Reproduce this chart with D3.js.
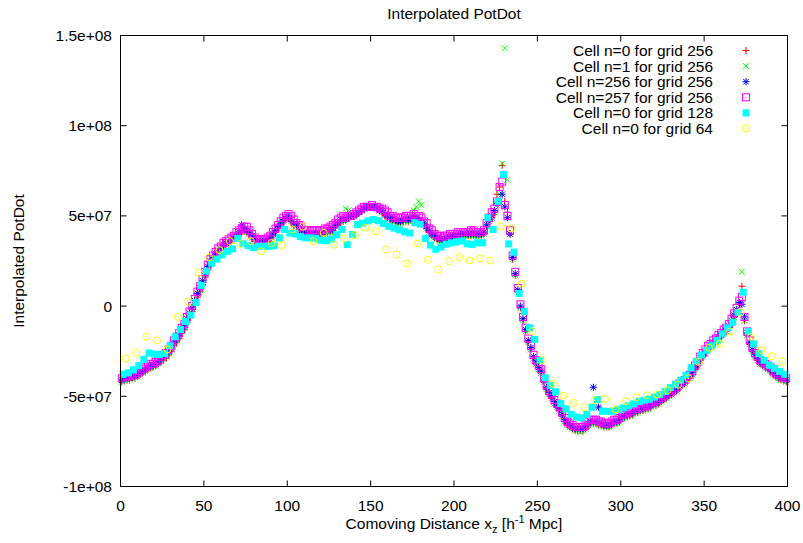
<!DOCTYPE html>
<html>
<head>
<meta charset="utf-8">
<script src="https://cdn.jsdelivr.net/npm/d3@7"></script>
<style>
  body { margin: 0; background: #fff; }
  svg { display: block; }
  text { font-family: "Liberation Sans", Arial, Helvetica, sans-serif; fill: #000; }
</style>
</head>
<body>
<svg id="chart" width="803" height="543"></svg>
<script>
// Comoving box length in h^-1 Mpc; samples sit at cell centres of each grid.
const boxLength = 400;

const xTickValues = [0, 50, 100, 150, 200, 250, 300, 350, 400];
const yTickValues = [-1e8, -5e7, 0, 5e7, 1e8, 1.5e8];
const yTickLabels = ["-1e+08", "-5e+07", "0", "5e+07", "1e+08", "1.5e+08"];

// Interpolated PotDot values, in units of 1e6.
const cell0Grid256 = [
  -42,-41,-41,-41,-40,-40,-39,-38,-37,-36,
  -35,-34,-34,-33,-32,-31,-30,-29,-27,-25,
  -22,-20,-18,-15,-13,-9,-6,-3,1,5,
  8,12,16,20,23,25,27,29,31,33,
  34,35,36,37,38,40,41,42,41,40,
  38,36,35,35,35,35,36,37,39,41,
  43,45,47,48,49,47,45,44,43,41,
  40,39,39,39,39,39,39,40,40,41,
  41,42,44,45,47,47,48,49,50,50,
  51,52,53,54,55,55,55,55,54,53,
  52,50,49,48,47,47,46,46,47,47,
  47,48,48,48,47,46,45,43,41,39,
  38,37,36,36,36,37,37,38,38,38,
  39,39,39,39,39,39,39,39,39,40,
  44,47,49,52,62,66,78,58,52,40,
  26,17,8,-1,-8,-14,-20,-24,-29,-32,
  -35,-37,-42,-46,-49,-51,-54,-56,-58,-61,
  -64,-66,-67,-68,-69,-69,-69,-69,-68,-66,
  -65,-65,-65,-66,-66,-67,-67,-67,-66,-65,
  -65,-64,-62,-62,-61,-61,-60,-59,-59,-58,
  -58,-57,-57,-56,-55,-55,-54,-53,-52,-51,
  -50,-49,-48,-47,-45,-44,-43,-41,-40,-38,
  -35,-33,-30,-28,-26,-24,-23,-21,-20,-18,
  -17,-15,-14,-12,-9,-6,-3,1,11,-8,
  -16,-21,-25,-28,-30,-32,-33,-34,-35,-36,
  -38,-39,-40,-41,-41,-42
];

const cell1Grid256 = [
  -42,-41,-41,-40,-40,-39,-39,-38,-37,-36,
  -35,-34,-33,-33,-32,-30,-29,-28,-26,-24,
  -21,-19,-17,-14,-12,-8,-5,-2,2,6,
  9,13,17,21,24,26,28,30,31,33,
  34,35,36,37,38,40,41,42,41,40,
  38,36,35,35,35,36,36,37,39,41,
  43,45,47,48,49,47,45,44,43,41,
  40,39,39,39,39,39,40,40,40,41,
  41,42,44,45,47,47,54,53,50,50,
  51,52,53,54,55,55,55,55,54,53,
  52,50,49,48,47,47,46,46,47,47,
  47,48,53,55,58,56,45,43,41,39,
  38,37,36,36,36,37,37,38,38,38,
  39,39,39,39,39,39,39,39,39,40,
  44,47,49,52,56,62,79,143,70,40,
  26,17,8,-1,-8,-14,-20,-24,-29,-32,
  -35,-37,-42,-46,-49,-51,-54,-56,-58,-61,
  -64,-66,-67,-68,-69,-69,-70,-69,-68,-66,
  -65,-65,-65,-66,-66,-67,-67,-67,-66,-65,
  -65,-64,-62,-62,-61,-61,-60,-59,-59,-58,
  -58,-57,-57,-56,-55,-55,-54,-53,-52,-51,
  -50,-49,-48,-47,-45,-44,-43,-41,-40,-38,
  -35,-33,-30,-28,-26,-24,-23,-21,-20,-18,
  -17,-15,-14,-12,-9,-6,-3,1,19,-8,
  -16,-21,-25,-28,-30,-32,-33,-34,-35,-36,
  -38,-39,-40,-41,-41,-42
];

const cell256Grid256 = [
  -41,-40,-40,-40,-39,-39,-38,-37,-36,-35,
  -34,-33,-33,-32,-31,-29,-28,-27,-25,-23,
  -20,-18,-16,-13,-11,-7,-4,-1,3,7,
  10,14,18,22,25,27,29,31,32,34,
  35,36,37,38,39,41,45,43,42,41,
  39,37,36,36,36,36,37,38,40,42,
  44,46,48,49,50,48,46,45,44,42,
  41,40,40,40,40,40,40,41,41,42,
  42,43,45,46,48,48,48,49,50,50,
  51,52,53,54,55,55,55,55,54,53,
  53,51,50,49,48,48,47,47,48,48,
  48,49,49,49,48,47,46,44,42,40,
  39,38,37,37,37,38,38,39,39,39,
  40,40,40,40,40,40,40,40,40,41,
  45,48,50,53,57,58,62,55,49,40,
  27,18,9,0,-7,-13,-19,-23,-28,-31,
  -34,-36,-41,-45,-48,-50,-53,-55,-57,-60,
  -63,-65,-66,-67,-68,-68,-68,-68,-67,-65,
  -64,-45,-64,-56,-65,-66,-66,-66,-65,-64,
  -64,-63,-61,-61,-60,-60,-59,-58,-58,-57,
  -57,-56,-56,-55,-54,-54,-53,-52,-51,-50,
  -49,-48,-47,-46,-44,-43,-42,-40,-39,-37,
  -34,-32,-29,-27,-25,-23,-22,-20,-19,-17,
  -16,-14,-13,-11,-8,-5,-2,2,1,-6,
  -15,-20,-24,-27,-29,-31,-32,-33,-34,-35,
  -37,-38,-39,-40,-40,-41
];

const cell257Grid256 = [
  -40,-39,-39,-39,-38,-38,-37,-36,-35,-34,
  -33,-32,-32,-31,-30,-28,-27,-26,-24,-22,
  -19,-17,-15,-12,-10,-6,-3,0,4,8,
  11,15,19,23,26,28,30,32,33,35,
  36,37,38,39,41,42,43,44,44,42,
  40,38,37,37,37,37,38,39,41,43,
  45,47,49,50,51,50,48,46,45,44,
  42,42,42,42,42,42,42,42,43,43,
  44,45,46,48,49,50,49,50,50,51,
  52,53,54,55,55,55,56,55,55,54,
  54,53,52,50,50,49,49,49,49,50,
  50,50,51,50,50,49,47,46,43,42,
  40,39,39,38,39,39,40,40,40,41,
  41,41,41,41,42,42,41,41,41,42,
  46,49,52,54,58,66,69,56,50,42,
  28,19,10,1,-6,-12,-18,-22,-27,-30,
  -33,-35,-40,-44,-47,-49,-52,-54,-56,-59,
  -62,-64,-65,-66,-67,-67,-67,-67,-66,-64,
  -63,-63,-63,-64,-64,-65,-65,-65,-64,-63,
  -63,-62,-60,-60,-59,-59,-58,-57,-57,-56,
  -56,-55,-55,-54,-53,-53,-52,-51,-50,-49,
  -48,-47,-46,-45,-43,-42,-41,-39,-38,-36,
  -33,-31,-28,-26,-24,-22,-21,-19,-18,-16,
  -15,-13,-12,-10,-7,-4,-1,3,5,-6,
  -14,-19,-23,-26,-28,-30,-31,-32,-33,-34,
  -36,-37,-38,-39,-39,-40
];

const cell0Grid128 = [
  -37.8,-37,-35.3,-33,-29.5,-26,-26.6,-26.8,-26.3,-22,
  -17,-13,-8.5,-5,2,11.5,19.5,23.8,26,28.4,
  30.3,31.7,37.5,34.6,33.5,32.4,33.2,33.2,33.2,33.5,
  37.8,42.5,40.5,40,38.6,37.8,37.8,37.6,36.5,36.2,
  37.2,39.5,42.5,34.1,39.7,45.2,46,47.2,48,47.3,
  45.8,44.2,43.2,42.3,41.2,40.5,46.2,45.4,37.5,33.8,
  31.5,32.8,34.3,35.1,35.6,36.1,34.5,34.1,35.1,35.1,
  49,42.5,58.1,72.9,34.5,29.9,7,-3,-12,-18.5,
  -30,-39.7,-44,-47.5,-54,-57,-60,-61.5,-61.9,-60,
  -56,-51.8,-58.3,-58.3,-58.3,-57.3,-56.4,-55.3,-54.2,-52.9,
  -52.2,-51.6,-50.4,-49,-47.4,-45.2,-43.3,-41,-38.3,-34.2,
  -30.5,-27.2,-24.5,-22,-19,-15.4,-12,-9,-3.5,7.7,
  -14,-21,-26.3,-30,-32.8,-34.5,-36.2,-37.8
];

const cell0Grid64 = [
  -29,-26,-17,-19,-24,-6,2.4,18.5,27,31,
  36,34.5,36,30.4,35,33.8,42.5,44,36,40.6,
  34,37.5,39.3,43.4,41.5,31.4,28.6,23.6,34.7,25.7,
  20.3,24.9,27.1,25.3,26.4,25.3,44.3,43,12.4,-13.9,
  -30,-43,-49.6,-53.6,-56,-52.3,-51.4,-57.3,-52.7,-50.5,
  -49.4,-49,-46.6,-43.6,-40,-30.9,-23.1,-20.9,-14.2,-3.4,
  -17,-24.4,-27.8,-30.7
];

const seriesList = [
  { label: "Cell n=0 for grid 256",   grid: 256, values: cell0Grid256,   color: "#ff0000", symbol: "plus" },
  { label: "Cell n=1 for grid 256",   grid: 256, values: cell1Grid256,   color: "#00ff00", symbol: "cross" },
  { label: "Cell n=256 for grid 256", grid: 256, values: cell256Grid256, color: "#0000ff", symbol: "star" },
  { label: "Cell n=257 for grid 256", grid: 256, values: cell257Grid256, color: "#ff00ff", symbol: "box" },
  { label: "Cell n=0 for grid 128",   grid: 128, values: cell0Grid128,   color: "#00ffff", symbol: "filledBox" },
  { label: "Cell n=0 for grid 64",    grid: 64,  values: cell0Grid64,    color: "#ffff00", symbol: "circle" }
];

const plot = { left: 120.5, right: 787.5, top: 35.5, bottom: 486.5 };
const tickLen = 6;
const fontSize = 15.5;

const svg = d3.select("#chart");

const x = d3.scaleLinear().domain([0, boxLength]).range([plot.left, plot.right]);
const y = d3.scaleLinear().domain([-1e8, 1.5e8]).range([plot.bottom, plot.top]);

// Point symbols in the style of gnuplot's point types 1-6.
function drawSymbol(g, symbol, color) {
  const h = 3.5;
  if (symbol === "plus") {
    g.append("path").attr("d", `M${-h},0H${h}M0,${-h}V${h}`)
      .attr("stroke", color).attr("fill", "none").attr("stroke-width", 1);
  } else if (symbol === "cross") {
    g.append("path").attr("d", `M${-h + 0.5},${-h + 0.5}L${h - 0.5},${h - 0.5}M${-h + 0.5},${h - 0.5}L${h - 0.5},${-h + 0.5}`)
      .attr("stroke", color).attr("fill", "none").attr("stroke-width", 1);
  } else if (symbol === "star") {
    g.append("path").attr("d", `M${-h},0H${h}M0,${-h}V${h}M${-h + 0.8},${-h + 0.8}L${h - 0.8},${h - 0.8}M${-h + 0.8},${h - 0.8}L${h - 0.8},${-h + 0.8}`)
      .attr("stroke", color).attr("fill", "none").attr("stroke-width", 1);
  } else if (symbol === "box") {
    g.append("rect").attr("x", -h).attr("y", -h).attr("width", 2 * h).attr("height", 2 * h)
      .attr("stroke", color).attr("fill", "none").attr("stroke-width", 1);
    g.append("rect").attr("x", -0.5).attr("y", -0.5).attr("width", 1).attr("height", 1).attr("fill", color);
  } else if (symbol === "filledBox") {
    g.append("rect").attr("x", -h).attr("y", -h).attr("width", 2 * h).attr("height", 2 * h)
      .attr("fill", color);
  } else if (symbol === "circle") {
    g.append("circle").attr("r", h).attr("stroke", color).attr("fill", "none").attr("stroke-width", 1);
    g.append("rect").attr("x", -0.5).attr("y", -0.5).attr("width", 1).attr("height", 1).attr("fill", color);
  }
}

// Data points, drawn in plotting order.
seriesList.forEach(s => {
  const cellWidth = boxLength / s.grid;
  const layer = svg.append("g").attr("class", "series");
  s.values.forEach((v, i) => {
    const g = layer.append("g")
      .attr("transform", `translate(${x((i + 0.5) * cellWidth)},${y(v * 1e6)})`);
    drawSymbol(g, s.symbol, s.color);
  });
});

// Frame with mirrored inward ticks.
const axes = svg.append("g").attr("stroke", "#000").attr("stroke-width", 1).attr("fill", "none");
axes.append("rect")
  .attr("x", plot.left).attr("y", plot.top)
  .attr("width", plot.right - plot.left).attr("height", plot.bottom - plot.top);

xTickValues.forEach(v => {
  const px = x(v);
  axes.append("line").attr("x1", px).attr("x2", px).attr("y1", plot.bottom).attr("y2", plot.bottom - tickLen);
  axes.append("line").attr("x1", px).attr("x2", px).attr("y1", plot.top).attr("y2", plot.top + tickLen);
});
yTickValues.forEach(v => {
  const py = y(v);
  axes.append("line").attr("x1", plot.left).attr("x2", plot.left + tickLen).attr("y1", py).attr("y2", py);
  axes.append("line").attr("x1", plot.right).attr("x2", plot.right - tickLen).attr("y1", py).attr("y2", py);
});

svg.append("g").selectAll("text").data(xTickValues).join("text")
  .attr("x", d => x(d)).attr("y", 511)
  .attr("text-anchor", "middle").attr("font-size", fontSize)
  .text(d => d);

svg.append("g").selectAll("text").data(yTickValues).join("text")
  .attr("x", 112).attr("y", d => y(d) + 5.5)
  .attr("text-anchor", "end").attr("font-size", fontSize)
  .text((d, i) => yTickLabels[i]);

// Title and axis labels.
svg.append("text").attr("x", (plot.left + plot.right) / 2).attr("y", 18.5)
  .attr("text-anchor", "middle").attr("font-size", fontSize)
  .text("Interpolated PotDot");

svg.append("text")
  .attr("transform", `translate(24,${(plot.top + plot.bottom) / 2}) rotate(-90)`)
  .attr("text-anchor", "middle").attr("font-size", fontSize)
  .text("Interpolated PotDot");

const xl = svg.append("text").attr("x", (plot.left + plot.right) / 2).attr("y", 529)
  .attr("text-anchor", "middle").attr("font-size", fontSize);
xl.append("tspan").text("Comoving Distance x");
xl.append("tspan").attr("dy", 4).attr("font-size", 11).text("z");
xl.append("tspan").attr("dy", -4).text(" [h");
xl.append("tspan").attr("dy", -6).attr("font-size", 11).text("-1");
xl.append("tspan").attr("dy", 6).text(" Mpc]");

// Key.
const legend = svg.append("g");
seriesList.forEach((s, k) => {
  const cy = 50.5 + k * 15.6;
  legend.append("text").attr("x", 713).attr("y", cy + 5.5)
    .attr("text-anchor", "end").attr("font-size", fontSize).text(s.label);
  const g = legend.append("g").attr("transform", `translate(746,${cy})`);
  drawSymbol(g, s.symbol, s.color);
});
</script>
</body>
</html>
